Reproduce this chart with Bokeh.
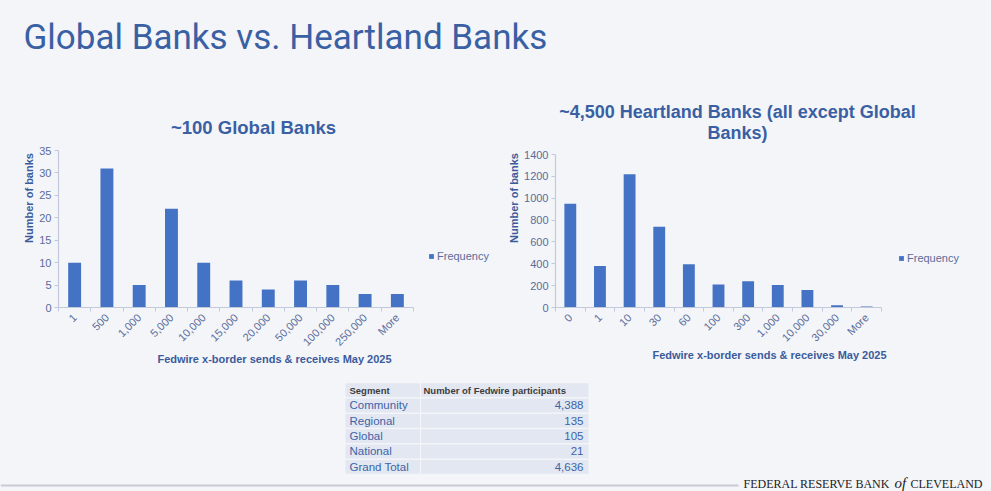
from bokeh.plotting import figure
from bokeh.models import (Range1d, Legend, LegendItem, FixedTicker,
                          SingleIntervalTicker)
from bokeh.layouts import column, row
from bokeh.embed import file_html
from bokeh.resources import INLINE
from bokeh.core.properties import value

# ---------------- data ----------------
global_bins = ["1", "500", "1,000", "5,000", "10,000", "15,000", "20,000",
               "50,000", "100,000", "250,000", "More"]
global_freq = [10, 31, 5, 22, 10, 6, 4, 6, 5, 3, 3]

heartland_bins = ["0", "1", "10", "30", "60", "100", "300", "1,000",
                  "10,000", "30,000", "More"]
heartland_freq = [950, 380, 1220, 740, 395, 210, 240, 205, 160, 20, 10]

segments = ["Community", "Regional", "Global", "National", "Grand Total"]
participants = [4388, 135, 105, 21, 4636]
table_header = ["Segment", "Number of Fedwire participants"]

page_title = "Global Banks vs. Heartland Banks"
left_title = ["~100 Global Banks"]
right_title = ["~4,500 Heartland Banks (all except Global", "Banks)"]
x_title = "Fedwire x-border sends & receives May 2025"
y_title = "Number of banks"
series_name = "Frequency"
footer = ["FEDERAL RESERVE BANK", "of", "CLEVELAND"]

# ---------------- style ----------------
BG = "#f3f5f9"
BAR = "#4472c4"
TITLE = "#3a5fa3"
TICK = "#5b6c99"
AXIS = "#c2c9da"
AXT = "#3b5b9c"
FONT = "Liberation Sans"
SERIF = "Liberation Serif"

MID_TOP = 88          # page y where the chart row starts
MID_H = 287
FRAME_BOTTOM = 307    # page y of the x axes


def base_fig(**kw):
    p = figure(output_backend="svg", toolbar_location=None,
               background_fill_color=BG, border_fill_color=BG,
               outline_line_color=None, **kw)
    p.xgrid.visible = False
    p.ygrid.visible = False
    p.styles = {"background-color": BG}
    return p


def make_chart(bins, freq, ymax, step, fig_left, width, bl, axis_px, axis_top,
               titles, title_cx, title_ys, title_size, legend_loc):
    """axis_top: page y of ymax; titles placed by page px via the chart scales."""
    n = len(bins)
    frame_w = width - bl - 8
    frame_h = FRAME_BOTTOM - MID_TOP
    axis_h = FRAME_BOTTOM - axis_top
    xend = n * frame_w / axis_px          # room on the right for the legend
    yend = ymax * frame_h / axis_h        # room above the axis for the title
    xs = [i + 0.5 for i in range(n)]
    p = base_fig(x_range=Range1d(0, xend), y_range=Range1d(0, yend),
                 width=width, height=MID_H, min_border_left=bl,
                 min_border_right=8, min_border_top=0,
                 min_border_bottom=MID_TOP + MID_H - FRAME_BOTTOM)
    r = p.vbar(x=xs, top=freq, width=0.4, fill_color=BAR, line_color=None)

    p.yaxis.ticker = SingleIntervalTicker(interval=step, num_minor_ticks=0)
    p.yaxis.bounds = (0, ymax)
    p.xaxis.ticker = FixedTicker(ticks=xs, minor_ticks=list(range(n + 1)))
    p.xaxis.major_label_overrides = {x: b for x, b in zip(xs, bins)}
    p.xaxis.bounds = (0, n)
    for ax in (p.xaxis[0], p.yaxis[0]):
        ax.axis_line_color = AXIS
        ax.axis_line_width = 1.2
        ax.major_tick_line_color = AXIS
        ax.major_label_text_color = TICK
        ax.major_label_text_font = FONT
        ax.major_label_text_font_size = "11px"
        ax.axis_label_text_font = FONT
        ax.axis_label_text_font_size = "11px"
        ax.axis_label_text_font_style = "bold"
        ax.axis_label_text_color = AXT
    p.yaxis.minor_tick_line_color = None
    p.yaxis.major_tick_out = 4
    p.yaxis.major_tick_in = 0
    p.yaxis.major_label_standoff = 3
    p.yaxis.axis_label = y_title
    p.yaxis.axis_label_standoff = 1
    p.xaxis.major_tick_out = 0
    p.xaxis.major_tick_in = 0
    p.xaxis.minor_tick_line_color = AXIS
    p.xaxis.minor_tick_out = 4
    p.xaxis.minor_tick_in = 0
    p.xaxis.major_label_orientation = 0.785398
    p.xaxis.major_label_standoff = 4
    p.xaxis.axis_label = x_title
    p.xaxis.axis_label_standoff = -2

    # chart title(s), positioned through the chart's own scales
    fx = (title_cx - fig_left - bl) / axis_px * n
    fys = [(FRAME_BOTTOM - ty) / axis_h * ymax for ty in title_ys]
    p.text(x=[fx] * len(titles), y=fys, text=titles, text_align="center",
           text_baseline="middle", text_font=value(FONT),
           text_font_size=title_size, text_font_style="bold", text_color=TITLE)

    leg = Legend(items=[LegendItem(label=series_name, renderers=[r])],
                 location=legend_loc, background_fill_alpha=0,
                 border_line_color=None, glyph_width=6, glyph_height=6,
                 label_height=12, label_width=10, label_standoff=3,
                 padding=0, margin=0, spacing=0,
                 label_text_font=FONT, label_text_font_size="11px",
                 label_text_color=TICK)
    p.add_layout(leg)
    return p


# ---------------- top: page title ----------------
top = base_fig(width=991, height=MID_TOP, x_range=Range1d(0, 991),
               y_range=Range1d(MID_TOP, 0), min_border=0,
               x_axis_location=None, y_axis_location=None)
top.text(x=[23], y=[36.5], text=[page_title], text_font=value("Roboto"),
         text_font_size="35px", text_color="#3a60a4", text_baseline="middle",
         text_align="left")

# ---------------- middle: the two histograms ----------------
left = make_chart(global_bins, global_freq, 35, 5, 0, 498, 58, 355, 150,
                  left_title, 253, [127], "18.5px", (370, 45))
right = make_chart(heartland_bins, heartland_freq, 1400, 200, 498, 493, 57, 326,
                   154, right_title, 737, [111, 132], "18px", (343, 43))

# ---------------- bottom: table + footer ----------------
BOT_H = 491 - MID_TOP - MID_H
bottom = base_fig(width=991, height=BOT_H, x_range=Range1d(0, 991),
                  y_range=Range1d(BOT_H, 0), min_border=0,
                  x_axis_location=None, y_axis_location=None)

T_LEFT, T_SPLIT, T_RIGHT = 345, 420, 588
T_TOP, ROW_H = 7, 15.33
rows = [table_header[0]] + segments
ncell = len(rows)
tops = [T_TOP + i * ROW_H + 0.75 for i in range(ncell)]
bots = [T_TOP + (i + 1) * ROW_H - 0.75 for i in range(ncell)]
mids = [T_TOP + (i + 0.5) * ROW_H for i in range(ncell)]

bottom.quad(left=T_LEFT, right=T_SPLIT - 0.6, top=tops, bottom=bots,
            fill_color="#e2e7f1", line_color=None)
bottom.quad(left=T_SPLIT + 0.6, right=T_RIGHT, top=tops, bottom=bots,
            fill_color="#e2e7f1", line_color=None)

bottom.text(x=[T_LEFT + 4, T_SPLIT + 3], y=[mids[0], mids[0]], text=table_header,
            text_font=value(FONT), text_font_size="9.5px", text_font_style="bold",
            text_color="#3d3d3d", text_baseline="middle", text_align="left")
bottom.text(x=[T_LEFT + 4] * len(segments), y=mids[1:], text=segments,
            text_font=value(FONT), text_font_size="11.5px", text_color="#3d63a8",
            text_baseline="middle", text_align="left")
bottom.text(x=[T_RIGHT - 5] * len(segments), y=mids[1:],
            text=[f"{v:,}" for v in participants],
            text_font=value(FONT), text_font_size="11.5px", text_color="#3d63a8",
            text_baseline="middle", text_align="right")

# footer rule and wordmark
bottom.segment(x0=[0], y0=[110], x1=[738], y1=[110], line_color="#c9ccd6",
               line_width=2)
bottom.text(x=[743, 910], y=[108, 108], text=[footer[0], footer[2]],
            text_font=value(SERIF), text_font_size="12px",
            text_color="#222222", text_baseline="middle", text_align="left")
bottom.text(x=[894], y=[107], text=[footer[1]],
            text_font=value(SERIF), text_font_size="15px", text_font_style="italic",
            text_color="#222222", text_baseline="middle", text_align="left")

mid = row(left, right, spacing=0)
mid.styles = {"background-color": BG}
layout = column(top, mid, bottom, spacing=0)
layout.styles = {"background-color": BG}

open("out.html", "w").write(file_html(layout, INLINE))
